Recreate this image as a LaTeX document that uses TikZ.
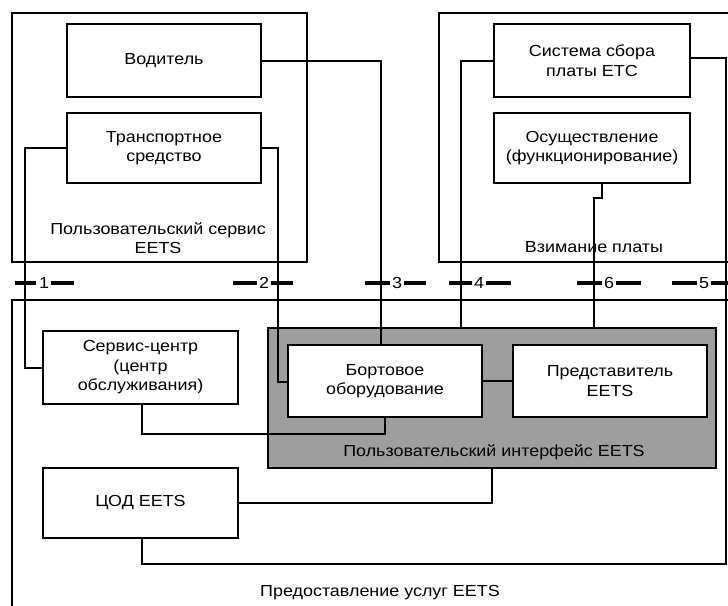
\documentclass[tikz,border=0pt]{standalone}
\usepackage{fontspec}
\setmainfont{Liberation Sans}[FakeStretch=1.12]
\begin{document}
\begin{tikzpicture}[x=1pt,y=-1pt,
  every node/.style={font=\fontsize{16}{19.5}\selectfont, inner sep=0pt},
  bx/.style={draw, line width=2pt, fill=white, align=center},
  frame/.style={draw, line width=2pt},
  wire/.style={draw, line width=2pt},
  ifdash/.style={line width=3.4pt},
  lbl/.style={align=center}]
\useasboundingbox (0,0) rectangle (728,605);
\clip (0,0) rectangle (728,605);
% domain frames
\draw[frame] (12,13) rectangle (307,262);
\draw[frame] (439,13) rectangle (745,262);
\draw[frame] (12,300) rectangle (745,625);
% gray user interface box
\draw[frame, fill={rgb,1:red,0.62;green,0.62;blue,0.62}] (268,328) rectangle (716,468);
\coordinate (uitop4) at (461,328);
\coordinate (uitop6) at (594,328);
\coordinate (uibot) at (492,468);
% boxes
\node[bx, minimum width=194, minimum height=73] (drv) at (164,60.5) {Водитель};
\node[bx, minimum width=194, minimum height=70] (veh) at (164,148) {Транспортное\\средство};
\node[bx, minimum width=196, minimum height=73] (etc) at (592,60.5) {Система сбора\\платы ETC};
\node[bx, minimum width=196, minimum height=70] (oper) at (592,148) {Осуществление\\(функционирование)};
\node[bx, minimum width=195, minimum height=73] (svc) at (140.5,367.5) {Сервис-центр\\(центр\\обслуживания)};
\node[bx, minimum width=194, minimum height=72] (obe) at (385,381) {Бортовое\\оборудование};
\node[bx, minimum width=194, minimum height=72] (rep) at (610,381) {Представитель\\EETS};
\node[bx, minimum width=195, minimum height=70] (cod) at (140.5,503) {ЦОД EETS};
% labels
\node[lbl] (tUser) at (158,238) {Пользовательский сервис\\EETS};
\node[lbl] (tCharge) at (594,247) {Взимание платы};
\node[lbl] (tUI) at (494,452) {Пользовательский интерфейс EETS};
\node[lbl] (tProv) at (380,593) {Предоставление услуг EETS};
% connectors
\draw[wire] (veh.west) -- (25,148) -- (25,367.5) -- (svc.west);
\draw[wire] (veh.east) -- (278,148) -- (278,382) -- (288,382);
\draw[wire] (drv.east) -- (381,60.5) -- (381,345);
\draw[wire] (etc.west) -- (461,60.5) -- (uitop4);
\draw[wire] (602,183) -- (602,198) -- (594,198) -- (uitop6);
\draw[wire] ([yshift=3pt]etc.east) -- (726,57.5) -- (726,564) -- (142,564) -- (142,538);
\draw[wire] (142,404) -- (142,434) -- (385,434) -- (obe.south);
\draw[wire] (obe.east) -- (rep.west);
\draw[wire] (cod.east) -- (uibot |- cod.east) -- (uibot);
% interface numbers
\node (n1) at (44,283) {1};
\node (n2) at (264,283) {2};
\node (n3) at (397,283) {3};
\node (n4) at (479,283) {4};
\node (n6) at (609,283) {6};
\node (n5) at (704,283) {5};
\draw[ifdash] (15,283) -- (36,283);
\draw[ifdash] ([xshift=2pt]n1.east) -- (74,283);
\draw[ifdash] (233,283) -- ([xshift=-2pt]n2.west);
\draw[ifdash] ([xshift=2pt]n2.east) -- (293,283);
\draw[ifdash] (365,283) -- ([xshift=-2pt]n3.west);
\draw[ifdash] ([xshift=2pt]n3.east) -- (426,283);
\draw[ifdash] (449,283) -- ([xshift=-2pt]n4.west);
\draw[ifdash] ([xshift=2pt]n4.east) -- (511,283);
\draw[ifdash] (577,283) -- ([xshift=-2pt]n6.west);
\draw[ifdash] ([xshift=2pt]n6.east) -- (641,283);
\draw[ifdash] (672,283) -- ([xshift=-2pt]n5.west);
\draw[ifdash] ([xshift=2pt]n5.east) -- (728,283);
\end{tikzpicture}
\end{document}
